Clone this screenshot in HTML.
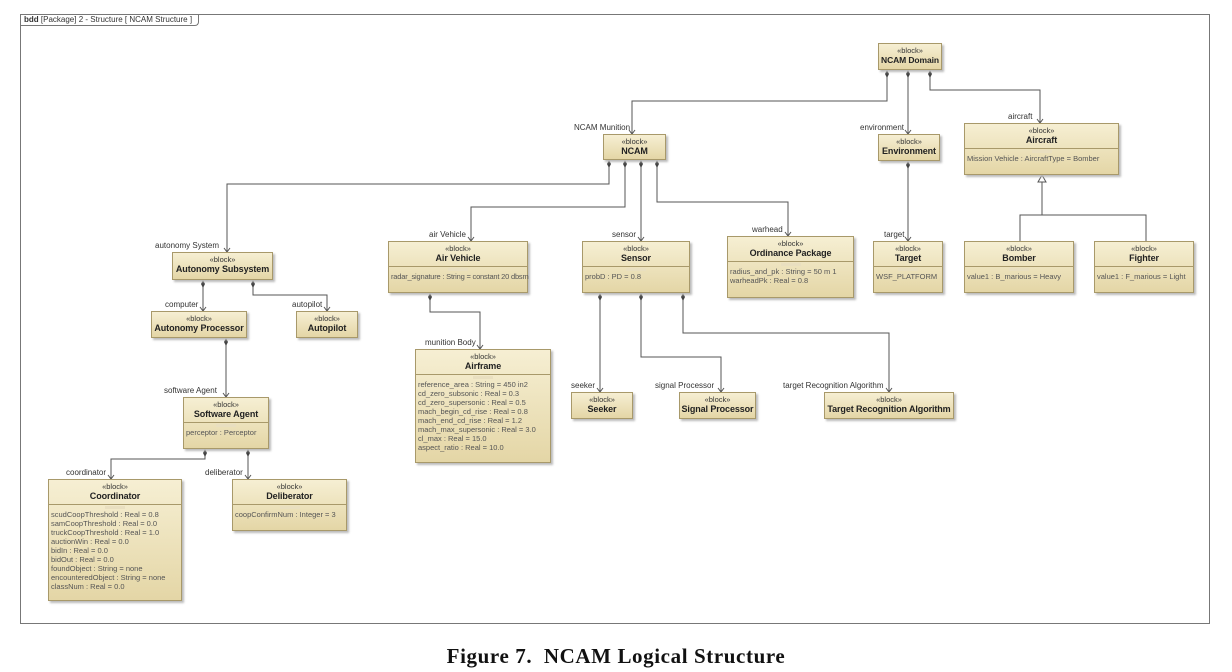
<!DOCTYPE html>
<html><head><meta charset="utf-8"><style>
body{margin:0;background:#fff;width:1232px;height:672px;position:relative;overflow:hidden;font-family:"Liberation Sans",sans-serif}
.b{position:absolute;box-sizing:border-box;border:1px solid #a8996a;background:linear-gradient(#f6efd3,#e4d6a6);box-shadow:2px 2px 2px #bbb;font-size:8px;color:#333;text-align:center;overflow:visible}
.b .s{font-size:7.5px;margin-top:2px;line-height:9px;white-space:nowrap}
.b .n{font-weight:bold;font-size:9px;line-height:11px;color:#222;white-space:nowrap;letter-spacing:-0.1px}
.b .c{border-top:1px solid #a8996a;margin-top:2px;text-align:left;padding:0 2px;font-size:7.5px;line-height:9px;color:#555;white-space:nowrap}
.b .c:before{content:"";display:block;width:20px;height:3px;margin:1px auto 1px;background:#e9dfc0}
.l{position:absolute;font-size:8px;color:#333;white-space:nowrap}
</style></head><body>
<div style="position:absolute;left:20px;top:14px;width:1190px;height:610px;border:1px solid #777;box-sizing:border-box"></div>
<div style="position:absolute;left:20px;top:14px;height:12px;border-right:1px solid #777;border-bottom:1px solid #777;font-size:8px;padding:1px 6px 0 4px;box-sizing:border-box;border-bottom-right-radius:4px;color:#333"><b>bdd</b> [Package] 2 - Structure [ NCAM Structure ]</div>
<svg width="1232" height="672" style="position:absolute;left:0;top:0" fill="none" stroke="#555" stroke-width="1">
<polyline points="887,70 887,101 632,101 632,134"/>
<polyline points="908,70 908,134"/>
<polyline points="930,70 930,90 1040,90 1040,123"/>
<polyline points="908,161 908,241"/>
<polyline points="1042,182 1042,215"/><polyline points="1020,241 1020,215 1146,215 1146,241"/>
<polygon points="1042,175 1038,182 1046,182" fill="#fff"/>
<polyline points="609,160 609,184 227,184 227,252"/>
<polyline points="625,160 625,207 471,207 471,241"/>
<polyline points="641,160 641,241"/>
<polyline points="657,160 657,202 788,202 788,236"/>
<polyline points="203,280 203,311"/>
<polyline points="253,280 253,295 327,295 327,311"/>
<polyline points="226,338 226,397"/>
<polyline points="205,449 205,459 111,459 111,479"/>
<polyline points="248,449 248,479"/>
<polyline points="430,293 430,312 480,312 480,349"/>
<polyline points="600,293 600,392"/>
<polyline points="641,293 641,357 721,357 721,392"/>
<polyline points="683,293 683,333 889,333 889,392"/>
<g fill="#444" stroke="none">
<polygon points="887,70 885,74 887,78 889,74"/><polygon points="908,70 906,74 908,78 910,74"/><polygon points="930,70 928,74 930,78 932,74"/>
<polygon points="908,161 906,165 908,169 910,165"/>
<polygon points="609,160 607,164 609,168 611,164"/><polygon points="625,160 623,164 625,168 627,164"/><polygon points="641,160 639,164 641,168 643,164"/><polygon points="657,160 655,164 657,168 659,164"/>
<polygon points="203,280 201,284 203,288 205,284"/><polygon points="253,280 251,284 253,288 255,284"/>
<polygon points="226,338 224,342 226,346 228,342"/>
<polygon points="205,449 203,453 205,457 207,453"/><polygon points="248,449 246,453 248,457 250,453"/>
<polygon points="430,293 428,297 430,301 432,297"/>
<polygon points="600,293 598,297 600,301 602,297"/><polygon points="641,293 639,297 641,301 643,297"/><polygon points="683,293 681,297 683,301 685,297"/>
</g>
<g stroke="#555">
<polyline points="629,130 632,134 635,130"/><polyline points="905,130 908,134 911,130"/><polyline points="1037,119 1040,123 1043,119"/><polyline points="905,237 908,241 911,237"/>
<polyline points="224,248 227,252 230,248"/><polyline points="468,237 471,241 474,237"/><polyline points="638,237 641,241 644,237"/><polyline points="785,232 788,236 791,232"/>
<polyline points="200,307 203,311 206,307"/><polyline points="324,307 327,311 330,307"/><polyline points="223,393 226,397 229,393"/>
<polyline points="108,475 111,479 114,475"/><polyline points="245,475 248,479 251,475"/><polyline points="477,345 480,349 483,345"/>
<polyline points="597,388 600,392 603,388"/><polyline points="718,388 721,392 724,388"/><polyline points="886,388 889,392 892,388"/>
</g>
</svg>
<div class="l" style="left:574px;top:123px">NCAM Munition</div>
<div class="l" style="left:860px;top:123px">environment</div>
<div class="l" style="left:1008px;top:112px">aircraft</div>
<div class="l" style="left:884px;top:230px">target</div>
<div class="l" style="left:155px;top:241px">autonomy System</div>
<div class="l" style="left:429px;top:230px">air Vehicle</div>
<div class="l" style="left:612px;top:230px">sensor</div>
<div class="l" style="left:752px;top:225px">warhead</div>
<div class="l" style="left:165px;top:300px">computer</div>
<div class="l" style="left:292px;top:300px">autopilot</div>
<div class="l" style="left:164px;top:386px">software Agent</div>
<div class="l" style="left:66px;top:468px">coordinator</div>
<div class="l" style="left:205px;top:468px">deliberator</div>
<div class="l" style="left:425px;top:338px">munition Body</div>
<div class="l" style="left:571px;top:381px">seeker</div>
<div class="l" style="left:655px;top:381px">signal Processor</div>
<div class="l" style="left:783px;top:381px">target Recognition Algorithm</div>

<div class="b" style="left:878px;top:43px;width:64px;height:27px"><div class="s">«block»</div><div class="n" style="font-size:8.5px">NCAM Domain</div></div>
<div class="b" style="left:603px;top:134px;width:63px;height:26px"><div class="s">«block»</div><div class="n">NCAM</div></div>
<div class="b" style="left:878px;top:134px;width:62px;height:27px"><div class="s">«block»</div><div class="n">Environment</div></div>
<div class="b" style="left:964px;top:123px;width:155px;height:52px"><div class="s">«block»</div><div class="n">Aircraft</div><div class="c">Mission Vehicle : AircraftType = Bomber</div></div>
<div class="b" style="left:172px;top:252px;width:101px;height:28px"><div class="s">«block»</div><div class="n">Autonomy Subsystem</div></div>
<div class="b" style="left:388px;top:241px;width:140px;height:52px"><div class="s">«block»</div><div class="n">Air Vehicle</div><div class="c" style="letter-spacing:-0.2px">radar_signature : String = constant 20 dbsm</div></div>
<div class="b" style="left:582px;top:241px;width:108px;height:52px"><div class="s">«block»</div><div class="n">Sensor</div><div class="c">probD : PD = 0.8</div></div>
<div class="b" style="left:727px;top:236px;width:127px;height:62px"><div class="s">«block»</div><div class="n">Ordinance Package</div><div class="c">radius_and_pk : String = 50 m 1<br>warheadPk : Real = 0.8</div></div>
<div class="b" style="left:873px;top:241px;width:70px;height:52px"><div class="s">«block»</div><div class="n">Target</div><div class="c">WSF_PLATFORM</div></div>
<div class="b" style="left:964px;top:241px;width:110px;height:52px"><div class="s">«block»</div><div class="n">Bomber</div><div class="c">value1 : B_marious = Heavy</div></div>
<div class="b" style="left:1094px;top:241px;width:100px;height:52px"><div class="s">«block»</div><div class="n">Fighter</div><div class="c">value1 : F_marious = Light</div></div>
<div class="b" style="left:151px;top:311px;width:96px;height:27px"><div class="s">«block»</div><div class="n">Autonomy Processor</div></div>
<div class="b" style="left:296px;top:311px;width:62px;height:27px"><div class="s">«block»</div><div class="n">Autopilot</div></div>
<div class="b" style="left:415px;top:349px;width:136px;height:114px"><div class="s">«block»</div><div class="n">Airframe</div><div class="c">reference_area : String = 450 in2<br>cd_zero_subsonic : Real = 0.3<br>cd_zero_supersonic : Real = 0.5<br>mach_begin_cd_rise : Real = 0.8<br>mach_end_cd_rise : Real = 1.2<br>mach_max_supersonic : Real = 3.0<br>cl_max : Real = 15.0<br>aspect_ratio : Real = 10.0</div></div>
<div class="b" style="left:571px;top:392px;width:62px;height:27px"><div class="s">«block»</div><div class="n">Seeker</div></div>
<div class="b" style="left:679px;top:392px;width:77px;height:27px"><div class="s">«block»</div><div class="n">Signal Processor</div></div>
<div class="b" style="left:824px;top:392px;width:130px;height:27px"><div class="s">«block»</div><div class="n">Target Recognition Algorithm</div></div>
<div class="b" style="left:183px;top:397px;width:86px;height:52px"><div class="s">«block»</div><div class="n">Software Agent</div><div class="c">perceptor : Perceptor</div></div>
<div class="b" style="left:48px;top:479px;width:134px;height:122px"><div class="s">«block»</div><div class="n">Coordinator</div><div class="c">scudCoopThreshold : Real = 0.8<br>samCoopThreshold : Real = 0.0<br>truckCoopThreshold : Real = 1.0<br>auctionWin : Real = 0.0<br>bidIn : Real = 0.0<br>bidOut : Real = 0.0<br>foundObject : String = none<br>encounteredObject : String = none<br>classNum : Real = 0.0</div></div>
<div class="b" style="left:232px;top:479px;width:115px;height:52px"><div class="s">«block»</div><div class="n">Deliberator</div><div class="c">coopConfirmNum : Integer = 3</div></div>

<div style="position:absolute;left:0;width:1232px;top:644px;text-align:center;font-family:'Liberation Serif',serif;font-weight:bold;font-size:21px;letter-spacing:0.6px;color:#111">Figure 7.&nbsp; NCAM Logical Structure</div>
</body></html>
